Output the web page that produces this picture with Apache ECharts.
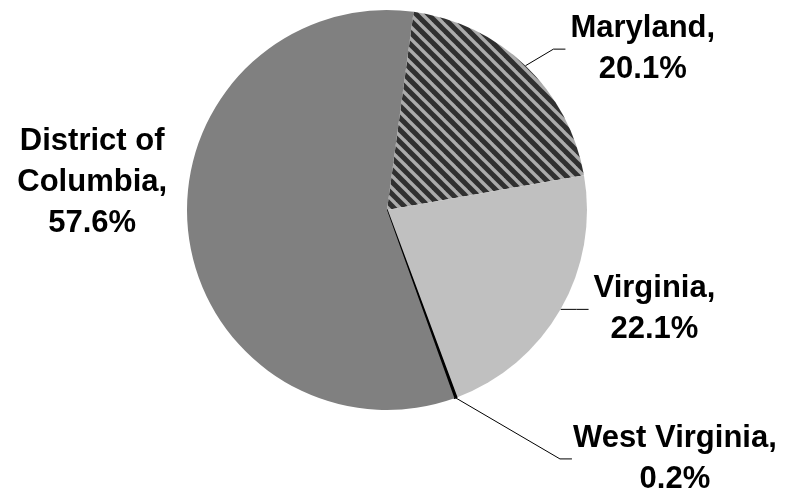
<!DOCTYPE html>
<html><head><meta charset="utf-8">
<script src="https://cdn.jsdelivr.net/npm/echarts@6/dist/echarts.min.js"></script>
<style>html,body{margin:0;padding:0;background:#fff}#c{width:789px;height:491px}</style>
</head><body><div id="c"></div>
<script>
// ---- data ----
const categories = ['Maryland', 'Virginia', 'West Virginia', 'District of Columbia'];
const values = [20.1, 22.1, 0.2, 57.6];

// ---- styles ----
const sliceColors = ['pattern', '#c0c0c0', '#000000', '#808080'];
const sliceBorder = [0, 0, 1.5, 0];
const lineLen = [23, 0, 65, 0];
const lineLen2 = [24, 28, 94, 16];
const labelGap = [5, 5, 1, 5];
const showLine = [true, true, true, false];
const liftLabel = [0, 0, 0, 49];
const kinkLen = 12;

function stripePattern() {
  const P = 12;
  const c = document.createElement('canvas');
  c.width = P; c.height = P;
  const g = c.getContext('2d');
  g.fillStyle = '#303030';
  g.fillRect(0, 0, P, P);
  g.strokeStyle = '#ababab';
  g.lineWidth = 3.4;
  for (let k = -1; k <= 1; k++) {
    g.beginPath();
    g.moveTo(k * P - 3, -3);
    g.lineTo(k * P + P + 3, P + 3);
    g.stroke();
  }
  return { image: c, repeat: 'repeat' };
}

function wrapName(name, maxChars) {
  const words = (name + ',').split(' ');
  const lines = [];
  let cur = '';
  words.forEach(w => {
    const t = cur ? cur + ' ' + w : w;
    if (t.length > maxChars && cur) { lines.push(cur); cur = w; } else { cur = t; }
  });
  if (cur) lines.push(cur);
  return lines;
}

const FONT = '"Liberation Sans", Arial, sans-serif';

const data = categories.map((name, i) => ({
  name: name,
  value: values[i],
  itemStyle: {
    color: sliceColors[i] === 'pattern' ? stripePattern() : sliceColors[i],
    borderColor: sliceColors[i] === 'pattern' ? '#303030' : sliceColors[i],
    borderWidth: sliceBorder[i]
  },
  label: { distanceToLabelLine: labelGap[i] },
  labelLine: { show: showLine[i], length: lineLen[i], length2: lineLen2[i] }
}));

const chart = echarts.init(document.getElementById('c'), null, { renderer: 'canvas' });
chart.setOption({
  animation: false,
  backgroundColor: '#ffffff',
  series: [{
    type: 'pie',
    center: [387, 210],
    radius: 200,
    startAngle: 82.35,
    clockwise: true,
    avoidLabelOverlap: false,
    emphasis: { disabled: true },
    silent: true,
    data: data,
    label: {
      show: true,
      position: 'outside',
      alignTo: 'none',
      formatter: function (p) {
        const lines = wrapName(p.name, 14);
        lines.push(p.value.toFixed(1) + '%');
        return lines.map(l => '{t|' + l + '}').join('\n');
      },
      rich: {
        t: { align: 'center', fontSize: 31, fontWeight: 'bold', fontFamily: FONT, color: '#000', lineHeight: 41 }
      }
    },
    labelLine: { lineStyle: { color: '#000', width: 1 }, smooth: false },
    labelLayout: function (p) {
      const i = p.dataIndex;
      if (liftLabel[i]) {
        return { y: p.labelRect.y + p.labelRect.height / 2 - liftLabel[i] };
      }
      const pts = p.labelLinePoints;
      if (pts && pts.length === 3) {
        const end = pts[2];
        return { labelLinePoints: [pts[0], [end[0] - kinkLen, end[1]], end] };
      }
      return {};
    }
  }]
});
</script></body></html>
